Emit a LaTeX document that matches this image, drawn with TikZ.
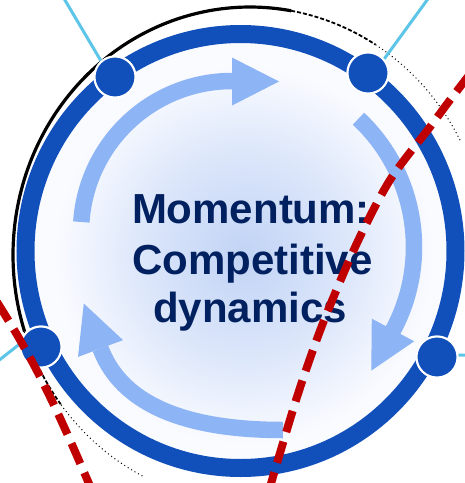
\documentclass[tikz,border=0pt]{standalone}
\usepackage{fontspec}
\setmainfont{Liberation Sans}
\definecolor{ringblue}{RGB}{17,79,187}
\definecolor{arrowblue}{RGB}{141,180,245}
\definecolor{textnavy}{RGB}{0,32,96}
\definecolor{cyanline}{RGB}{92,197,232}
\definecolor{redline}{RGB}{192,0,0}
\definecolor{glowA}{RGB}{193,211,245}
\definecolor{glowB}{RGB}{218,229,250}
\definecolor{glowC}{RGB}{250,251,255}
\pgfdeclareradialshading{innerglow}{\pgfpoint{0bp}{0bp}}{%
  color(0bp)=(glowA); color(11bp)=(glowB); color(22bp)=(glowC); color(25bp)=(glowC); color(50bp)=(glowC)}
\begin{document}
\begin{tikzpicture}[x=1pt,y=-1pt,
  hubdot/.style={circle,fill=ringblue,draw=white,line width=2pt,minimum size=41pt,inner sep=0pt},
  spoke/.style={cyanline,line width=3pt},
  cyclearrow/.style={arrowblue,line width=16.5pt},
  ringtext/.style={anchor=base,text=textnavy,font=\fontsize{42}{50}\selectfont\bfseries,inner sep=0pt},
  cutline/.style={redline,line width=8pt,dash pattern=on 22pt off 10pt}]
\useasboundingbox (0,0) rectangle (465,483);
\clip (0,0) rectangle (465,483);
\fill[white] (0,0) rectangle (465,483);

% soft glow inside the ring
\shade[shading=innerglow] (244,255) circle[radius=216];

% thin dark outline behind the ring
\draw[black,line width=1pt,dash pattern=on 1pt off 3pt]
  plot[domain=117:143,samples=40] ({250+237*cos(\x)},{255+248*sin(\x)});
\draw[black,line width=1.8pt,dash pattern=on 4pt off 2pt]
  plot[domain=143:162,samples=30] ({250+237*cos(\x)},{255+248*sin(\x)});
\draw[black,line width=3.2pt]
  plot[domain=162:280,samples=90] ({250+237*cos(\x)},{255+248*sin(\x)});
\draw[black,line width=1.8pt,dash pattern=on 4pt off 2pt]
  plot[domain=280:302,samples=30] ({250+237*cos(\x)},{255+248*sin(\x)});
\draw[black,line width=1pt,dash pattern=on 1pt off 3pt]
  plot[domain=302:333,samples=40] ({250+237*cos(\x)},{255+248*sin(\x)});

% main ring
\draw[ringblue,line width=18pt] (240.5,251) ellipse[x radius=215,y radius=217];

% cycle arrows
\draw[cyclearrow] plot[domain=183.8:271,samples=60] ({232+151*cos(\x)},{232+151*sin(\x)});
\fill[arrowblue] (232,57.5) -- (279,81.5) -- (232,105.5) -- cycle;
\draw[cyclearrow] plot[domain=-46.8:29,samples=60] ({238+176*cos(\x)},{247+176*sin(\x)});
\fill[arrowblue] (414.2,341.3) -- (371.3,370.6) -- (371.8,318.7) -- cycle;
\draw[cyclearrow] (283,430) .. controls (203,430) and (125,413) .. (100.5,348.5);
\fill[arrowblue] (123,340.1) -- (83.8,303.5) -- (78,356.9) -- cycle;

% title
\node[ringtext] (t1) at (251,223) {Momentum:};
\node[ringtext] (t2) at (252.5,274) {Competitive};
\node[ringtext] (t3) at (250,322) {dynamics};

% spokes and hub dots
\coordinate (e1) at (63.7,-2);
\coordinate (e2) at (428.6,-2);
\coordinate (e3) at (-2,361);
\coordinate (e4) at (467,355);
\node[hubdot] (d1) at (115,77) {};
\node[hubdot] (d2) at (368,73) {};
\node[hubdot] (d3) at (41,347) {};
\node[hubdot] (d4) at (437,357) {};
\draw[spoke] (e1) -- (d1.131);
\draw[spoke] (e2) -- (d2.41);
\draw[spoke] (e3) -- (d3.172);
\draw[spoke] (e4) -- (d4.5);
\node[hubdot] at (d1) {};
\node[hubdot] at (d2) {};
\node[hubdot] at (d3) {};
\node[hubdot] at (d4) {};

% dashed cut lines
\draw[cutline] plot[smooth] coordinates {(470,74) (450,100) (430,127) (390,180) (357,243) (323,323) (297,397) (270,487)};
\draw[cutline] plot[smooth] coordinates {(-3,302) (16,333) (35,367) (53,403) (70,440) (90,486)};
\end{tikzpicture}
\end{document}
